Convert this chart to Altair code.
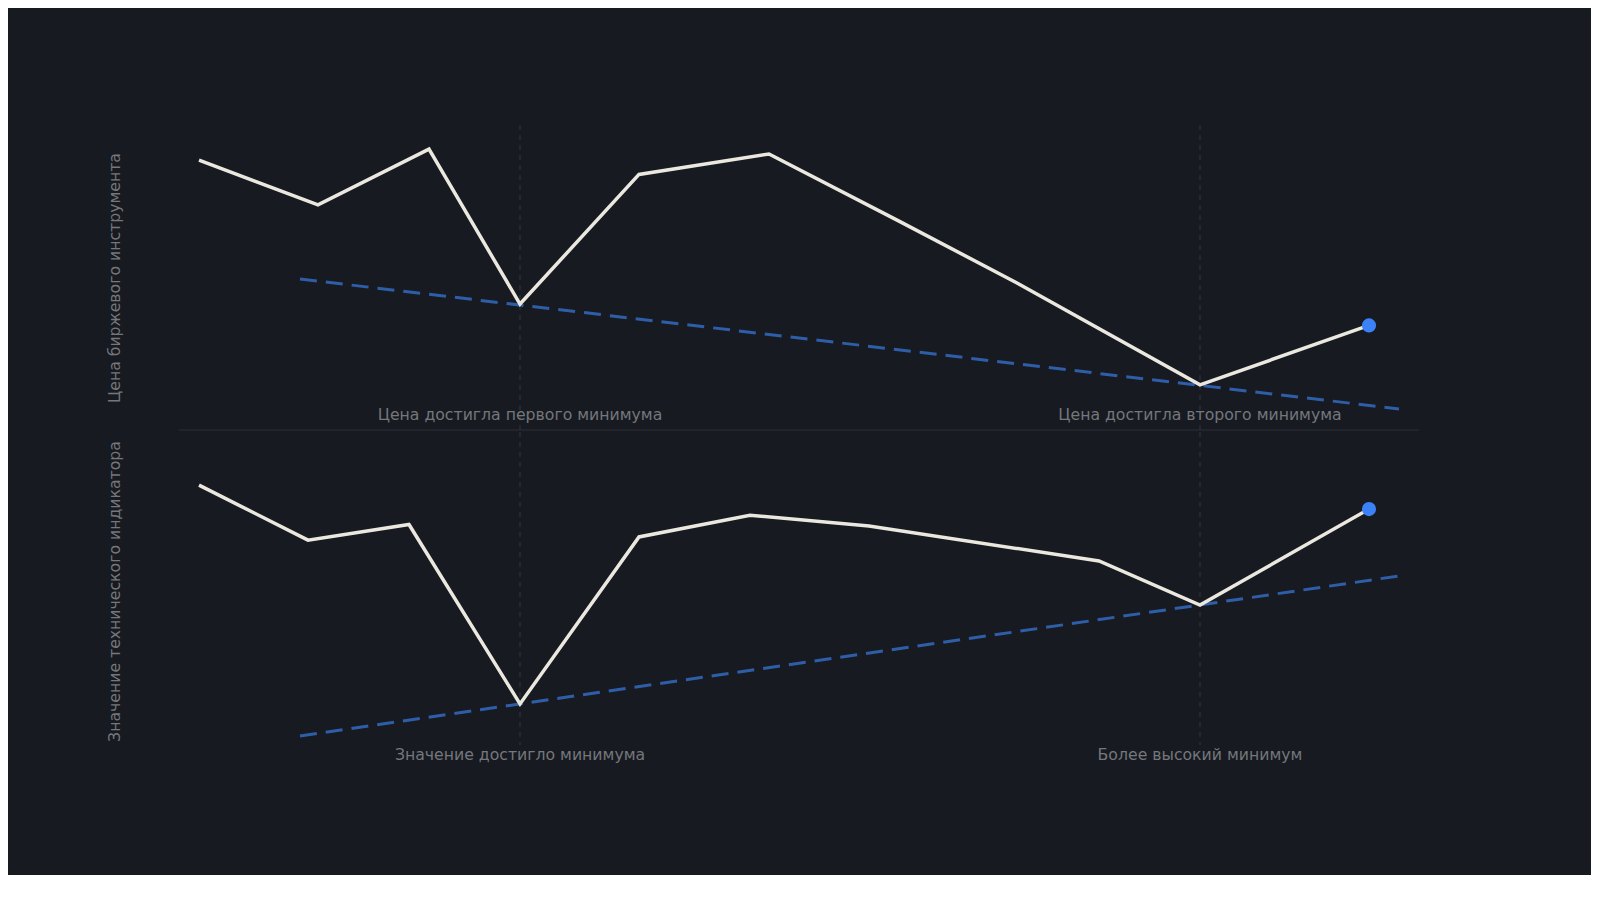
import altair as alt
import pandas as pd

# ---- data ----
price_day = [2, 13.9, 25, 34.1, 46, 59, 72, 83.8, 102.1, 119]
price_val = [88.5, 73.8, 92.1, 41.3, 83.8, 90.5, 68.5, 48.2, 14.8, 34.3]
price_trend_day = [12.1, 122]
price_trend_val = [49.5, 6.9]

ind_day = [2, 12.9, 23, 34.1, 46, 57.1, 69, 92, 102.1, 119]
ind_val = [82.8, 65.6, 70.5, 14.4, 66.6, 73.4, 70, 59.1, 45.3, 75.3]
ind_trend_day = [12.1, 122]
ind_trend_val = [4.4, 54.4]

min_days = [34.1, 102.1]
price_labels = ["Цена достигла первого минимума", "Цена достигла второго минимума"]
ind_labels = ["Значение достигло минимума", "Более высокий минимум"]

price_title = "Цена биржевого инструмента"
ind_title = "Значение технического индикатора"

BG = "#171a21"
LINE = "#ebe8df"
TREND = "#2f5ea8"
DOT = "#3b82f6"
TEXT = "#74777b"
VLINE = "#2a2d34"
SEP = "#23262d"
FONT = "DejaVu Sans"
FS = 15.7

W = 1240
XDOM = [0, 124]


def panel(day, val, tday, tval, labels, title, h, ydom, rule_h, label_y, top):
    xs = alt.Scale(domain=XDOM, nice=False, zero=False)
    ys = alt.Scale(domain=ydom, nice=False, zero=False)
    yaxis = alt.Axis(title=title, labels=False, ticks=False, grid=False, domain=False,
                     titleColor=TEXT, titleFont=FONT, titleFontSize=FS,
                     titleFontWeight="normal", titlePadding=57)
    X = alt.X("day:Q", scale=xs, axis=None)

    line_df = pd.DataFrame({"day": day, "val": val})
    trend_df = pd.DataFrame({"day": tday, "val": tval})
    mins_df = pd.DataFrame({"day": min_days, "label": labels})
    last_df = pd.DataFrame({"day": [day[-1]], "val": [val[-1]]})

    rules = alt.Chart(mins_df).mark_rule(color=VLINE, strokeWidth=1.5, strokeDash=[5, 5]).encode(
        x=X, y=alt.value(0), y2=alt.value(rule_h))
    trend = alt.Chart(trend_df).mark_line(color=TREND, strokeWidth=3, strokeDash=[17, 9]).encode(
        x=X, y=alt.Y("val:Q", scale=ys, axis=yaxis))
    line = alt.Chart(line_df).mark_line(color=LINE, strokeWidth=3.5, strokeJoin="miter").encode(
        x=X, y=alt.Y("val:Q", scale=ys, axis=yaxis))
    dot = alt.Chart(last_df).mark_point(filled=True, color=DOT, size=200, opacity=1).encode(
        x=X, y=alt.Y("val:Q", scale=ys, axis=yaxis))
    text = alt.Chart(mins_df).mark_text(color=TEXT, font=FONT, fontSize=FS, align="center",
                                        baseline="middle").encode(
        x=X, y=alt.value(label_y), text="label:N")
    layers = [rules, trend, line, dot, text]
    if top:
        sep = alt.Chart(mins_df).mark_rule(color=SEP, strokeWidth=1.5).encode(
            x=alt.value(0), x2=alt.value(W), y=alt.value(h))
        layers.insert(0, sep)
    return alt.layer(*layers).properties(width=W, height=h)


top = panel(price_day, price_val, price_trend_day, price_trend_val, price_labels,
            price_title, 305, [0, 100], 305, 290, True)
bottom = panel(ind_day, ind_val, ind_trend_day, ind_trend_val, ind_labels,
               ind_title, 318, [0, 99.4], 313, 323, False)

chart = alt.vconcat(top, bottom, spacing=0).properties(
    background=BG,
    padding={"left": 98, "top": 116, "right": 171, "bottom": 112},
).configure(font=FONT).configure_view(stroke="transparent", strokeWidth=0)

chart.save("out.html", embed_options={"renderer": "svg", "actions": False})
